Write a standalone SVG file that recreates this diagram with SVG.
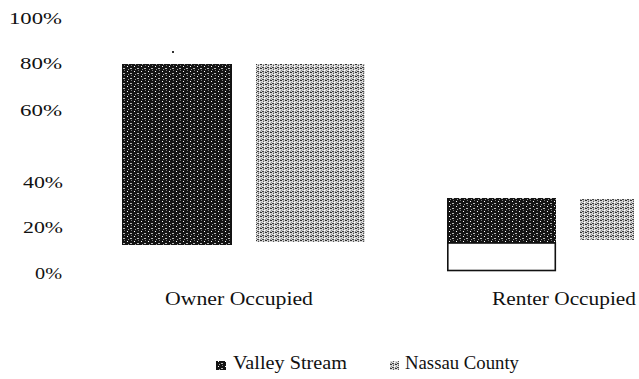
<svg xmlns="http://www.w3.org/2000/svg" width="639" height="379" viewBox="0 0 639 379">
<style>
.t{font-family:"Liberation Serif","DejaVu Serif",serif;fill:#111;}
.ax{font-size:17.5px;text-anchor:end;}
.cat{font-size:18.5px;}
.lg{font-size:18.5px;}
</style>
<defs>
<pattern id="dark" width="7" height="5" patternUnits="userSpaceOnUse">
<rect width="7" height="5" fill="#141414"/>
<rect x="1" y="1" width="1" height="1" fill="#fff"/>
<rect x="4" y="3" width="2" height="1" fill="#bbb"/>
<rect x="5" y="0" width="1" height="1" fill="#777"/>
<rect x="2" y="4" width="1" height="1" fill="#999"/>
</pattern>
<pattern id="light" width="5" height="4" patternUnits="userSpaceOnUse">
<rect width="5" height="4" fill="#d8d8d8"/>
<rect x="0" y="0" width="2" height="1" fill="#333"/>
<rect x="3" y="1" width="1" height="1" fill="#555"/>
<rect x="1" y="2" width="1" height="1" fill="#888"/>
<rect x="2" y="3" width="2" height="1" fill="#444"/>
<rect x="4" y="2" width="1" height="1" fill="#fff"/>
<rect x="0" y="3" width="1" height="1" fill="#999"/>
<rect x="3" y="0" width="1" height="1" fill="#aaa"/>
</pattern>
</defs>
<rect width="639" height="379" fill="#fff"/>
<g id="axis-labels">
<text class="t ax" x="62" y="24" textLength="53" lengthAdjust="spacingAndGlyphs">100%</text>
<text class="t ax" x="62" y="69" textLength="42" lengthAdjust="spacingAndGlyphs">80%</text>
<text class="t ax" x="62" y="116" textLength="42" lengthAdjust="spacingAndGlyphs">60%</text>
<text class="t ax" x="63" y="188" textLength="40" lengthAdjust="spacingAndGlyphs">40%</text>
<text class="t ax" x="63" y="233" textLength="40" lengthAdjust="spacingAndGlyphs">20%</text>
<text class="t ax" x="62" y="279" textLength="27" lengthAdjust="spacingAndGlyphs">0%</text>
</g>
<g id="owner-valley">
<rect x="122" y="64" width="110" height="181" fill="url(#dark)"/>
</g>
<g id="owner-nassau">
<rect x="256" y="64" width="109" height="178" fill="url(#light)"/>
</g>
<g id="renter-valley">
<rect x="447" y="198" width="109" height="45" fill="url(#dark)"/>
<rect x="447.8" y="243" width="107.5" height="27.5" fill="#fff" stroke="#111" stroke-width="1.6"/>
</g>
<g id="renter-nassau">
<rect x="580" y="199" width="54" height="41" fill="url(#light)"/>
</g>
<rect x="172" y="51" width="2" height="2" fill="#333"/>
<g id="category-labels">
<text class="t cat" x="165" y="305" textLength="148" lengthAdjust="spacingAndGlyphs">Owner Occupied</text>
<text class="t cat" x="492" y="305" textLength="144" lengthAdjust="spacingAndGlyphs">Renter Occupied</text>
</g>
<g id="legend">
<rect x="216" y="361" width="10" height="9" fill="url(#dark)"/>
<text class="t lg" x="233" y="369" textLength="114" lengthAdjust="spacingAndGlyphs">Valley Stream</text>
<rect x="390" y="361" width="9" height="9" fill="url(#light)"/>
<text class="t lg" x="405" y="369" textLength="114" lengthAdjust="spacingAndGlyphs">Nassau County</text>
</g>
</svg>
